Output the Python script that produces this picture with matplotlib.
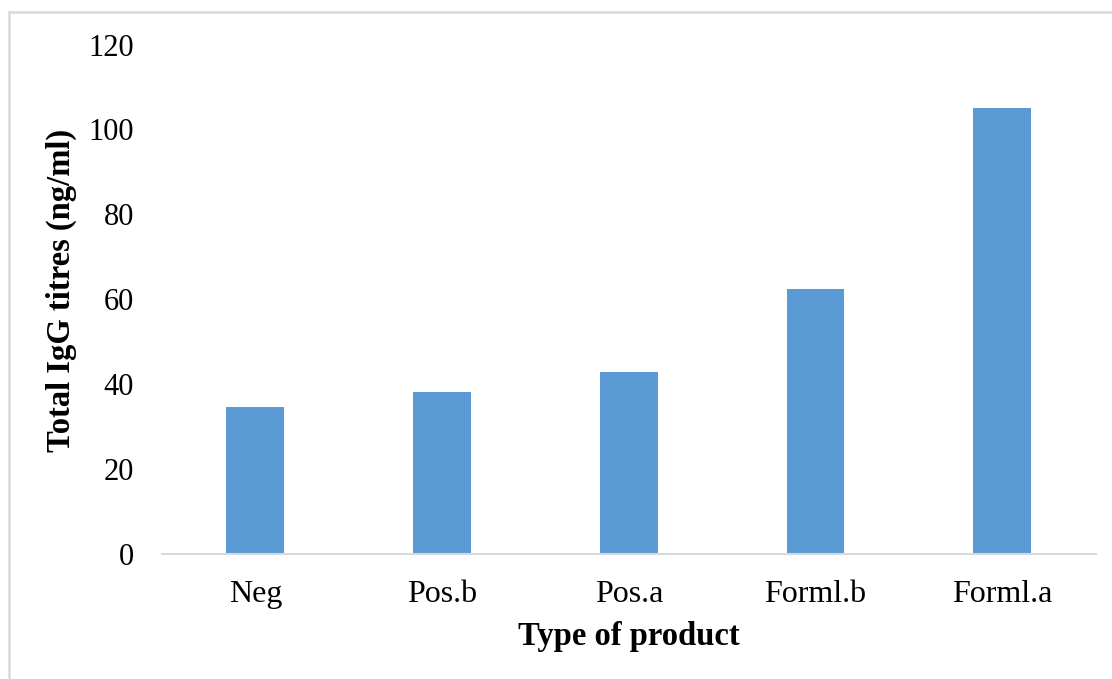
import matplotlib.pyplot as plt
from matplotlib.lines import Line2D

# Total IgG titres per product type
products = ["Neg", "Pos.b", "Pos.a", "Forml.b", "Forml.a"]
igg_titres = [34.5, 38.1, 42.7, 62.3, 105.0]
y_ticks = [0, 20, 40, 60, 80, 100, 120]

plt.rcParams['font.family'] = ['Liberation Serif', 'DejaVu Serif']

fig = plt.figure(figsize=(11.12, 6.79), dpi=100)
ax = fig.add_axes([0.1457, 0.1848, 0.8395, 0.7494])

ax.bar(range(len(products)), igg_titres, width=0.31, color='#5B9BD5')

ax.set_xlim(-0.5, len(products) - 0.5)
ax.set_ylim(0, 120)
ax.set_xticks(range(len(products)))
ax.set_xticklabels(products)
ax.set_yticks(y_ticks)
ax.tick_params(axis='both', length=0, colors='#000000')
ax.tick_params(axis='x', pad=19, labelsize=23)
ax.tick_params(axis='y', pad=20, labelsize=22)

for side in ['top', 'right', 'left']:
    ax.spines[side].set_visible(False)
ax.spines['bottom'].set_color('#D9D9D9')
ax.spines['bottom'].set_linewidth(1.5)

ax.set_xlabel("Type of product", fontsize=23.5, fontweight='bold', labelpad=9)
ax.set_ylabel("Total IgG titres (ng/ml)", fontsize=23.5, fontweight='bold')
ax.yaxis.set_label_coords(-0.091, 0.518)

# light grey chart-area frame (top and left edges)
W, H = 1112, 679
fig.add_artist(Line2D([9 / W, 1], [1 - 12 / H, 1 - 12 / H], color='#D9D9D9', lw=1.8))
fig.add_artist(Line2D([9 / W, 9 / W], [0, 1 - 12 / H], color='#D9D9D9', lw=1.8))

fig.savefig("out.png", dpi=100)
